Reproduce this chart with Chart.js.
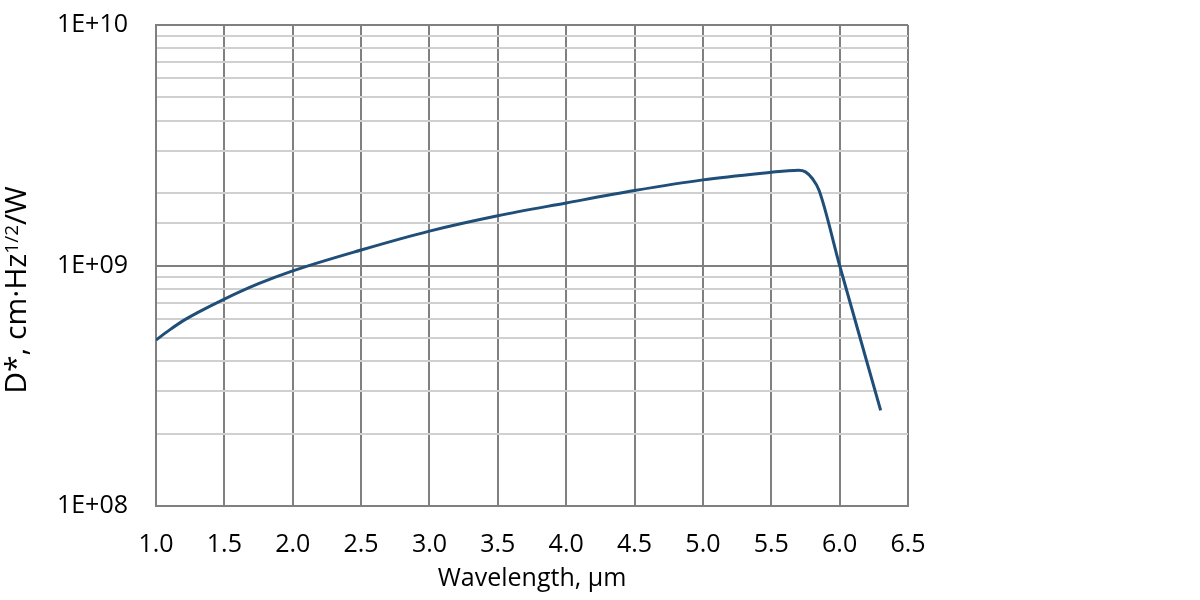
<!DOCTYPE html>
<html>
<head>
<meta charset="utf-8">
<script src="https://cdn.jsdelivr.net/npm/chart.js@4.4.1/dist/chart.umd.min.js"></script>
<style>
  html, body { margin: 0; padding: 0; background: #fff; }
  #wrap { width: 1200px; height: 600px; }
</style>
</head>
<body>
<div id="wrap"><canvas id="chart" width="1200" height="600"></canvas></div>
<script>
// Data
const wavelengths = [1.0, 1.1, 1.2, 1.3, 1.5, 1.75, 2.0, 2.5, 3.0, 3.5, 4.0, 4.5, 5.0, 5.5, 5.6, 5.7, 5.75, 5.8, 5.85, 6.0, 6.3];
const detectivity = [4.9e8, 5.4e8, 5.9e8, 6.35e8, 7.25e8, 8.4e8, 9.5e8, 1.16e9, 1.39e9, 1.61e9, 1.82e9, 2.05e9, 2.27e9, 2.44e9, 2.47e9, 2.49e9, 2.45e9, 2.3e9, 2.05e9, 1.0e9, 2.5e8];
const xTicks = [1.0, 1.5, 2.0, 2.5, 3.0, 3.5, 4.0, 4.5, 5.0, 5.5, 6.0, 6.5];
const yMajor = [1e8, 1e9, 1e10];

const FONT = "'Open Sans', 'Noto Sans', sans-serif";

// rotated y title with a real superscript
const yTitlePlugin = {
  id: "yTitle",
  afterDraw(chart) {
    const ctx = chart.ctx;
    const parts = [
      { t: "D*, cm\u00b7Hz", size: 30, dy: 0 },
      { t: "1/2", size: 19, dy: -8 },
      { t: "/W", size: 30, dy: 0 },
    ];
    ctx.save();
    let total = 0;
    parts.forEach((p) => {
      ctx.font = p.size + "px " + FONT;
      p.w = ctx.measureText(p.t).width;
      total += p.w;
    });
    ctx.translate(26, 290);
    ctx.rotate(-Math.PI / 2);
    ctx.fillStyle = "#000";
    ctx.textBaseline = "alphabetic";
    let x = -total / 2;
    parts.forEach((p) => {
      ctx.font = p.size + "px " + FONT;
      ctx.fillText(p.t, x, p.dy);
      x += p.w;
    });
    ctx.restore();
  },
};

const ctx = document.getElementById("chart").getContext("2d");
new Chart(ctx, {
  type: "line",
  data: {
    datasets: [
      {
        data: wavelengths.map((w, i) => ({ x: w, y: detectivity[i] })),
        borderColor: "#1f4e79",
        borderWidth: 3,
        pointRadius: 0,
        fill: false,
        cubicInterpolationMode: "monotone",
      },
    ],
  },
  options: {
    responsive: false,
    animation: false,
    layout: { padding: { top: 25, right: 292, bottom: 0, left: 0 } },
    plugins: { legend: { display: false }, tooltip: { enabled: false } },
    scales: {
      x: {
        type: "linear",
        min: 1.0,
        max: 6.5,
        afterBuildTicks: (scale) => {
          scale.ticks = xTicks.map((v) => ({ value: v }));
        },
        afterFit: (scale) => { scale.height = 94; },
        ticks: {
          callback: (v) => Number(v).toFixed(1),
          font: { family: FONT, size: 25 },
          color: "#000",
          padding: 24,
          maxRotation: 0,
          autoSkip: false,
        },
        grid: { color: "#808080", lineWidth: 2, drawTicks: false },
        border: { color: "#808080", width: 2 },
        title: {
          display: true,
          text: "Wavelength, \u00b5m",
          font: { family: FONT, size: 25 },
          color: "#000",
          padding: { top: 0, bottom: 6 },
        },
      },
      y: {
        type: "logarithmic",
        min: 1e8,
        max: 1e10,
        afterFit: (scale) => {
          scale.width = 156;
          // tick padding would otherwise push the plot top down
          scale.paddingTop = 0;
          scale.paddingBottom = 0;
        },
        ticks: {
          autoSkip: false,
          font: { family: FONT, size: 25 },
          color: "#000",
          padding: 28,
          callback: (v) => {
            if (!yMajor.includes(v)) return "";
            const e = Math.round(Math.log10(v));
            return "1E+" + String(e).padStart(2, "0");
          },
        },
        grid: {
          drawTicks: false,
          lineWidth: 2,
          color: (c) => (c.tick && yMajor.includes(c.tick.value) ? "#808080" : "#d0d0d0"),
        },
        border: { color: "#808080", width: 2 },
      },
    },
  },
  plugins: [yTitlePlugin],
});
</script>
</body>
</html>
